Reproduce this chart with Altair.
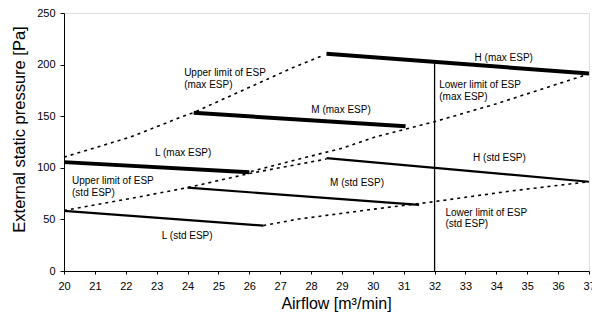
import altair as alt
import pandas as pd

# ---- data ----
x_ticks = list(range(20, 38))
y_ticks = [0, 50, 100, 150, 200, 250]

# operating curves (max ESP = thick, std ESP = medium)
L_max_x = [20.0, 26.0]
L_max_y = [105.5, 95.8]
M_max_x = [24.2, 31.06]
M_max_y = [153.3, 140.2]
H_max_x = [28.5, 37.0]
H_max_y = [210.4, 191.4]

L_std_x = [20.0, 26.45]
L_std_y = [58.3, 44.0]
M_std_x = [24.0, 31.5]
M_std_y = [80.8, 64.0]
H_std_x = [28.5, 37.0]
H_std_y = [109.3, 86.5]

# limit curves (dotted)
up_max_x = [20.0, 22.16, 23.77, 24.2, 26.3, 27.36, 28.4]
up_max_y = [110.3, 129.9, 148.9, 153.6, 182.0, 196.4, 209.0]
low_max_x = [26.05, 29.0, 30.1, 32.0, 33.95, 35.24, 37.0]
low_max_y = [96.5, 119.0, 130.0, 144.7, 161.6, 174.0, 191.0]
up_std_x = [20.0, 22.16, 24.0, 26.0, 28.5]
up_std_y = [58.6, 70.3, 80.8, 94.5, 108.5]
low_std_x = [26.45, 27.52, 30.1, 31.81, 34.49, 37.0]
low_std_y = [44.0, 50.0, 60.2, 66.5, 77.6, 86.5]

# vertical reference line at 32 m3/min
vline_x = [32.0, 32.0]
vline_y = [0.0, 202.0]

# annotations
center_labels = ["L (max ESP)", "M (max ESP)", "H (max ESP)",
                 "L (std ESP)", "M (std ESP)", "H (std ESP)"]
center_lx = [23.86, 28.97, 34.24, 23.99, 29.49, 34.1]
center_ly = [111.5, 153.3, 203.7, 30.7, 82.0, 106.5]

left_labels = ["Upper limit of ESP\n(max ESP)", "Lower limit of ESP\n(max ESP)",
               "Upper limit of ESP\n(std ESP)", "Lower limit of ESP\n(std ESP)"]
left_lx = [23.89, 32.15, 20.26, 32.35]
left_ly = [188.5, 177.0, 84.0, 53.5]


def long(series_list):
    rows = []
    for name, xs, ys in series_list:
        for i, (a, b) in enumerate(zip(xs, ys)):
            rows.append({"series": name, "i": i, "x": a, "y": b})
    return pd.DataFrame(rows)


df_thick = long([("Lmax", L_max_x, L_max_y), ("Mmax", M_max_x, M_max_y),
                 ("Hmax", H_max_x, H_max_y)])
df_med = long([("Lstd", L_std_x, L_std_y), ("Mstd", M_std_x, M_std_y),
               ("Hstd", H_std_x, H_std_y)])
df_dot = long([("upmax", up_max_x, up_max_y), ("lowmax", low_max_x, low_max_y),
               ("upstd", up_std_x, up_std_y), ("lowstd", low_std_x, low_std_y)])
df_v = long([("v", vline_x, vline_y)])
df_c = pd.DataFrame({"x": center_lx, "y": center_ly, "t": center_labels})
df_l = pd.DataFrame({"x": left_lx, "y": left_ly, "t": left_labels})

FONT = "Liberation Sans"

xs = alt.Scale(domain=[20, 37], nice=False, zero=False)
ys = alt.Scale(domain=[0, 250], nice=False)

X = alt.X("x:Q", scale=xs, axis=alt.Axis(
    values=x_ticks, format="d", grid=False, tickSize=3, labelPadding=6,
    labelFont=FONT, labelFontSize=11, labelColor="black",
    domainColor="black", tickColor="black", labelFlush=False,
    title="Airflow [m³/min]", titleFont=FONT, titleFontSize=16,
    titleFontWeight="normal", titleColor="black",
    titleX=272, titleY=37, titleBaseline="alphabetic", titleAlign="center"))
Y = alt.Y("y:Q", scale=ys, axis=alt.Axis(
    values=y_ticks, grid=False, tickSize=4, labelPadding=5,
    labelFont=FONT, labelFontSize=11, labelColor="black",
    domainColor="black", tickColor="black", labelFlush=False,
    title="External static pressure [Pa]", titleFont=FONT, titleFontSize=16.5,
    titleFontWeight="normal", titleColor="black", titleAngle=-90,
    titleX=-40, titleY=116, titleBaseline="alphabetic", titleAlign="center"))

thick = alt.Chart(df_thick).mark_line(color="black", strokeWidth=4, strokeCap="butt").encode(
    x=X, y=Y, detail="series:N", order="i:Q")
med = alt.Chart(df_med).mark_line(color="black", strokeWidth=2.2, strokeCap="butt").encode(
    x=X, y=Y, detail="series:N", order="i:Q")
dot = alt.Chart(df_dot).mark_line(color="black", strokeWidth=1.6, strokeDash=[3, 4]).encode(
    x=X, y=Y, detail="series:N", order="i:Q")
vline = alt.Chart(df_v).mark_line(color="black", strokeWidth=1.3).encode(
    x=X, y=Y, detail="series:N", order="i:Q")
ctext = alt.Chart(df_c).mark_text(font=FONT, fontSize=10, color="black",
                                  align="center", baseline="alphabetic").encode(
    x=X, y=Y, text="t:N")
ltext = alt.Chart(df_l).mark_text(font=FONT, fontSize=10, color="black",
                                  align="left", baseline="alphabetic",
                                  lineBreak="\n", lineHeight=11.5).encode(
    x=X, y=Y, text="t:N")

chart = alt.layer(vline, dot, med, thick, ctext, ltext).properties(
    width=525, height=258,
    padding={"left": 56, "top": 5, "right": 3, "bottom": 46},
    autosize=alt.AutoSizeParams(type="none"),
).configure_view(stroke="black", strokeWidth=1).configure(background="white")

chart.save("out.html", embed_options={"renderer": "svg", "actions": False})
